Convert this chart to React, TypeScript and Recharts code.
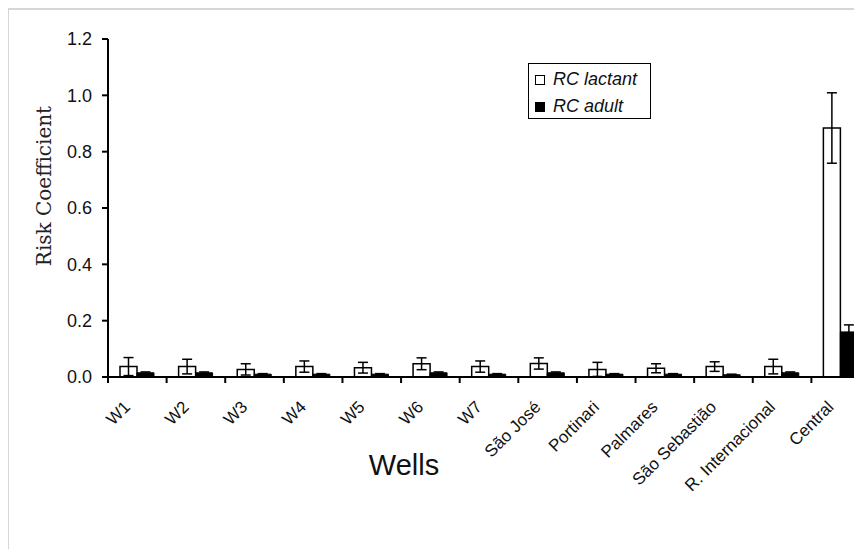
import React from 'react';
import { BarChart, Bar, XAxis, YAxis, ErrorBar, Legend } from 'recharts';

// values
const wells = [
  'W1', 'W2', 'W3', 'W4', 'W5', 'W6', 'W7',
  'São José', 'Portinari', 'Palmares', 'São Sebastião', 'R. Internacional', 'Central',
];
const rcLactant = [0.037, 0.037, 0.027, 0.037, 0.033, 0.047, 0.037, 0.048, 0.027, 0.031, 0.037, 0.037, 0.884];
const rcLactantErr = [0.032, 0.026, 0.02, 0.02, 0.019, 0.021, 0.02, 0.02, 0.025, 0.016, 0.017, 0.026, 0.125];
const rcAdult = [0.015, 0.015, 0.01, 0.01, 0.01, 0.015, 0.01, 0.015, 0.01, 0.01, 0.008, 0.015, 0.16];
const rcAdultErr = [0.003, 0.003, 0.002, 0.002, 0.002, 0.003, 0.002, 0.003, 0.002, 0.002, 0.002, 0.003, 0.025];
const yTicks = [0, 0.2, 0.4, 0.6, 0.8, 1.0, 1.2];
const legendOrder = ['lactant', 'adult'];

const data = wells.map((w, i) => ({
  well: w,
  lactant: rcLactant[i],
  lactantErr: rcLactantErr[i],
  adult: rcAdult[i],
  adultErr: rcAdultErr[i],
}));

const CHART_W = 880;
const CHART_H = 549;
const MARGIN = { top: 39, right: 10, bottom: 142, left: 48 };
const Y_AXIS_W = 60;
const X_AXIS_H = 30;
const PLOT_W = CHART_W - MARGIN.left - Y_AXIS_W - MARGIN.right;
const BAND = PLOT_W / wells.length;

const sans = '"Liberation Sans", Arial, sans-serif';

// category ticks sit on the boundaries, labels are rotated under the centre
const WellTick = (props: any) => {
  const { x, y, payload } = props;
  const bx = x - BAND / 2;
  const lx = x - 6;
  const ly = y + 31;
  return (
    <g>
      <line x1={bx} y1={y} x2={bx} y2={y + 6} stroke="#000" strokeWidth={2} />
      <text
        x={lx}
        y={ly}
        textAnchor="end"
        transform={`rotate(-45 ${lx} ${ly})`}
        fontSize={17}
        fontFamily={sans}
        fill="#111"
      >
        {payload.value}
      </text>
    </g>
  );
};

const LegendBox = (props: any) => {
  const items = [...(props.payload || [])].sort(
    (a: any, b: any) => legendOrder.indexOf(a.dataKey) - legendOrder.indexOf(b.dataKey),
  );
  return (
    <div
      style={{
        border: '1.5px solid #000',
        background: '#fff',
        width: 123,
        height: 56,
        boxSizing: 'border-box',
        padding: '2px 0 0 6px',
      }}
    >
      {items.map((it: any) => (
        <div key={it.value} style={{ display: 'flex', alignItems: 'center', height: 27 }}>
          <span
            style={{
              display: 'inline-block',
              width: 10,
              height: 10,
              boxSizing: 'border-box',
              border: '1px solid #000',
              background: it.dataKey === 'adult' ? '#000' : '#fff',
              marginRight: 8,
            }}
          />
          <span style={{ fontFamily: sans, fontStyle: 'italic', fontSize: 18, color: '#111' }}>
            {it.value}
          </span>
        </div>
      ))}
    </div>
  );
};

export default function App() {
  return (
    <div
      style={{
        position: 'relative',
        width: 852,
        height: 541,
        overflow: 'hidden',
        borderTop: '2px solid #d6d6d6',
        borderLeft: '2px solid #d6d6d6',
        marginLeft: -1,
        background: '#fff',
      }}
    >
      <div style={{ position: 'absolute', left: -9, top: -10 }}>
        <BarChart
          width={CHART_W}
          height={CHART_H}
          data={data}
          margin={MARGIN}
          barGap={0}
          barSize={17}
        >
          <XAxis
            dataKey="well"
            height={X_AXIS_H}
            interval={0}
            axisLine={{ stroke: '#000', strokeWidth: 2 }}
            tickLine={false}
            tickSize={0}
            tickMargin={0}
            tick={<WellTick />}
            label={{
              content: () => (
                <text x={404} y={475} textAnchor="middle" fontSize={29} fontFamily={sans} fill="#111">
                  Wells
                </text>
              ),
            }}
          />
          <YAxis
            width={Y_AXIS_W}
            domain={[0, 1.2]}
            ticks={yTicks}
            tickFormatter={(v: number) => v.toFixed(1)}
            axisLine={{ stroke: '#000', strokeWidth: 2 }}
            tickLine={{ stroke: '#000', strokeWidth: 2 }}
            tickSize={6}
            tickMargin={10}
            tick={{ fontSize: 18, fontFamily: sans, fill: '#111' }}
            label={{
              content: () => (
                <text
                  x={51}
                  y={186}
                  textAnchor="middle"
                  transform="rotate(-90 51 186)"
                  fontSize={20}
                  fontFamily='"DejaVu Serif", serif'
                  fill="#222"
                >
                  Risk Coefficient
                </text>
              ),
            }}
          />
          <Legend
            layout="horizontal"
            verticalAlign="middle"
            align="center"
            content={<LegendBox />}
            wrapperStyle={{ left: 528, top: 63, width: 123, height: 56 }}
          />
          <Bar dataKey="lactant" name="RC lactant" fill="#fff" stroke="#000" strokeWidth={1.5} isAnimationActive={false}>
            <ErrorBar dataKey="lactantErr" width={5} stroke="#000" strokeWidth={1.5} />
          </Bar>
          <Bar dataKey="adult" name="RC adult" fill="#000" stroke="#000" strokeWidth={1} isAnimationActive={false}>
            <ErrorBar dataKey="adultErr" width={5} stroke="#000" strokeWidth={1.5} />
          </Bar>
        </BarChart>
      </div>
    </div>
  );
}
